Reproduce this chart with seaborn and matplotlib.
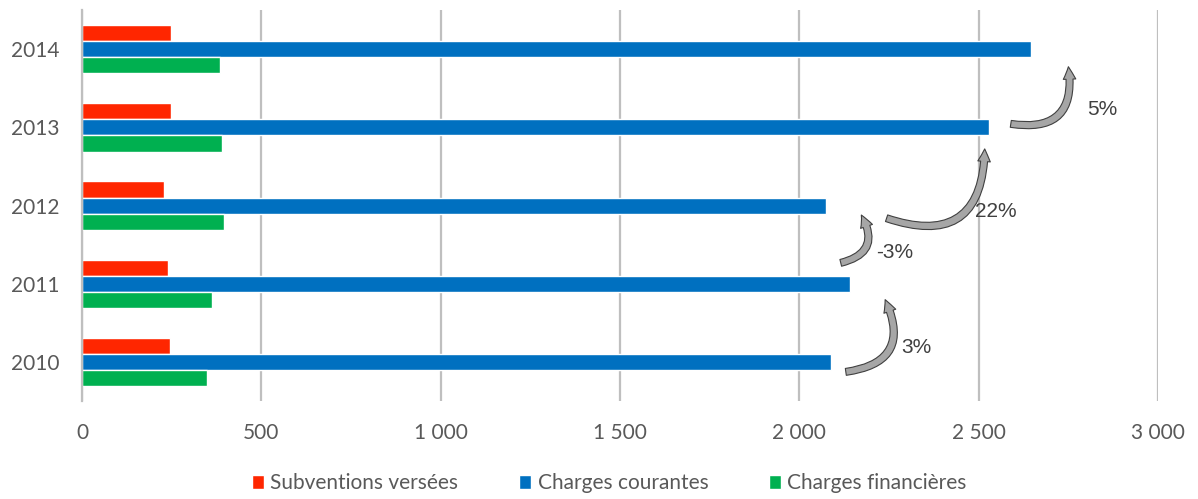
import pandas as pd
import seaborn as sns
import matplotlib.pyplot as plt
from matplotlib.patches import FancyArrowPatch
from matplotlib.ticker import FuncFormatter

# =============================================================================
# DATA
# =============================================================================
years = ['2014', '2013', '2012', '2011', '2010']
subventions = [248, 248, 229, 240, 245]
courantes = [2646, 2529, 2074, 2141, 2088]
financieres = [385, 390, 396, 362, 348]
series_names = ['Subventions versées', 'Charges courantes', 'Charges financières']
colors = ['#ff2600', '#0070c0', '#00b050']

# growth labels between consecutive years (2010->2011, ..., 2013->2014)
growth_labels = ['3%', '-3%', '22%', '5%']

df = pd.DataFrame({'year': years * 3,
                   'value': subventions + courantes + financieres,
                   'serie': [s for s in series_names for _ in years]})

sns.set_style('white')
plt.rcParams['font.family'] = ['Lato', 'DejaVu Sans']

fig, ax = plt.subplots(figsize=(11.98, 4.99), dpi=100)
fig.subplots_adjust(left=0.0684, right=0.9666, top=0.98, bottom=0.196)

sns.barplot(data=df, y='year', x='value', hue='serie', order=years,
            hue_order=series_names, palette=colors, orient='h',
            width=0.62, saturation=1, ax=ax)

ax.set_xlim(0, 3000)
ax.set_xticks(range(0, 3001, 500))
ax.xaxis.set_major_formatter(FuncFormatter(lambda v, p: '{:,}'.format(int(v)).replace(',', ' ')))
ax.grid(axis='x', color='#bfbfbf', linewidth=1.6)
ax.set_axisbelow(True)
for s in ['top', 'right', 'bottom']:
    ax.spines[s].set_visible(False)
ax.spines['left'].set_color('#bfbfbf')
ax.spines['left'].set_linewidth(1.6)
ax.tick_params(axis='x', colors='#bfbfbf', length=4, labelcolor='#595959', labelsize=15, pad=12)
ax.tick_params(axis='y', length=0, labelcolor='#595959', labelsize=15, pad=16)
ax.set_xlabel('')
ax.set_ylabel('')

ax.legend(loc='center', bbox_to_anchor=(0.49, -0.21), ncol=3, frameon=False,
          fontsize=15, handlelength=0.6, handleheight=0.6, handletextpad=0.3,
          columnspacing=2.9, labelcolor='#595959')

# curved growth arrows
arrows = [((2122, 4.13), (2236, 3.17)),
          ((2108, 2.74), (2169, 2.09)),
          ((2236, 2.15), (2517, 1.24)),
          ((2582, 0.95), (2749, 0.19))]
label_pos = [(2283, 3.81), (2214, 2.6), (2490, 2.08), (2802, 0.77)]
for (tail, head), lab, pos in zip(arrows, growth_labels, label_pos):
    arr = FancyArrowPatch(tail, head, connectionstyle='arc3,rad=0.7',
                          arrowstyle='simple,head_width=9,head_length=9,tail_width=5',
                          facecolor='#a6a6a6', edgecolor='#404040', linewidth=0.8)
    ax.add_patch(arr)
    ax.text(pos[0], pos[1], lab, fontsize=15, color='#404040',
            family=['Liberation Sans', 'DejaVu Sans'], va='center', ha='left')

plt.savefig('out.png', dpi=100)
